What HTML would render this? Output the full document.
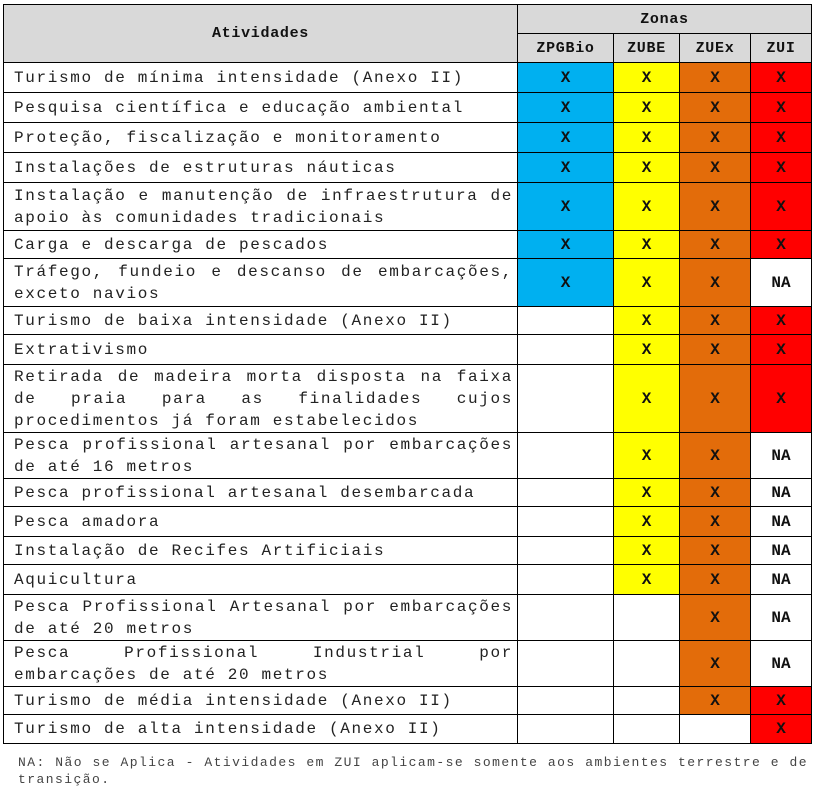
<!DOCTYPE html>
<html><head><meta charset="utf-8"><style>
body{margin:0;width:816px;height:788px;background:#fff;position:relative;overflow:hidden;font-family:"Liberation Mono","Courier New",monospace}
.c{position:absolute;box-sizing:border-box;border:1px solid #000;display:flex;align-items:center;justify-content:center}
.t{padding:0 4px 0 10px;font-size:16px;letter-spacing:1.65px;color:#222;flex-direction:column;align-items:stretch;line-height:22px}
.t div{white-space:nowrap}
.t div.j{text-align:justify;text-align-last:justify;white-space:normal}
.h{background:#d9d9d9;font-weight:bold;font-size:15px;letter-spacing:0.7px;color:#111}
.x{font-weight:bold;font-size:16px;color:#111}
.B{background:#00b0f0}.Y{background:#ffff00}.O{background:#e36c0a}.R{background:#ff0000}
.foot{position:absolute;left:18px;width:790px;font-size:13px;letter-spacing:1.45px;color:#444;line-height:17px}
</style></head><body>
<div class="c h" style="left:3px;top:4px;width:515px;height:59px">Atividades</div>
<div class="c h" style="left:517px;top:4px;width:295px;height:30px">Zonas</div>
<div class="c h" style="left:517px;top:33px;width:97px;height:30px">ZPGBio</div>
<div class="c h" style="left:613px;top:33px;width:67px;height:30px">ZUBE</div>
<div class="c h" style="left:679px;top:33px;width:72px;height:30px">ZUEx</div>
<div class="c h" style="left:750px;top:33px;width:62px;height:30px">ZUI</div>
<div id="rows"></div>
<div class="foot" style="top:754px;text-align:justify;text-align-last:left">NA: Não se Aplica - Atividades em ZUI aplicam-se somente aos ambientes terrestre e de transição.</div>
<script>
var R=[
[62,92,["Turismo de mínima intensidade (Anexo II)"],"BYOR"],
[92,122,["Pesquisa científica e educação ambiental"],"BYOR"],
[122,152,["Proteção, fiscalização e monitoramento"],"BYOR"],
[152,182,["Instalações de estruturas náuticas"],"BYOR"],
[182,230,["Instalação e manutenção de infraestrutura de","apoio às comunidades tradicionais"],"BYOR"],
[230,258,["Carga e descarga de pescados"],"BYOR"],
[258,306,["Tráfego, fundeio e descanso de embarcações,","exceto navios"],"BYON"],
[306,334,["Turismo de baixa intensidade (Anexo II)"],"-YOR"],
[334,364,["Extrativismo"],"-YOR"],
[364,432,["Retirada de madeira morta disposta na faixa","de praia para as finalidades cujos","procedimentos já foram estabelecidos"],"-YOR"],
[432,478,["Pesca profissional artesanal por embarcações","de até 16 metros"],"-YON"],
[478,506,["Pesca profissional artesanal desembarcada"],"-YON"],
[506,536,["Pesca amadora"],"-YON"],
[536,564,["Instalação de Recifes Artificiais"],"-YON"],
[564,594,["Aquicultura"],"-YON"],
[594,640,["Pesca Profissional Artesanal por embarcações","de até 20 metros"],"--ON"],
[640,686,["Pesca Profissional Industrial por","embarcações de até 20 metros"],"--ON"],
[686,714,["Turismo de média intensidade (Anexo II)"],"--OR"],
[714,743,["Turismo de alta intensidade (Anexo II)"],"---R"]];
var X=[517,613,679,750,811],h="";
R.forEach(function(r){var y=r[0],H=r[1]-r[0]+1,t="";
r[2].forEach(function(l,i){t+='<div class="'+(i<r[2].length-1?'j':'')+'">'+l+'</div>';});
h+='<div class="c t" style="left:3px;top:'+y+'px;width:515px;height:'+H+'px;justify-content:center">'+t+'</div>';
for(var i=0;i<4;i++){var k=r[3][i],cls=(k=="-"||k=="N")?"":k,txt=k=="-"?"":k=="N"?"NA":"X";
h+='<div class="c x '+cls+'" style="left:'+X[i]+'px;top:'+y+'px;width:'+(X[i+1]-X[i]+1)+'px;height:'+H+'px">'+txt+'</div>';}
});
document.getElementById("rows").innerHTML=h;
</script>
</body></html>
